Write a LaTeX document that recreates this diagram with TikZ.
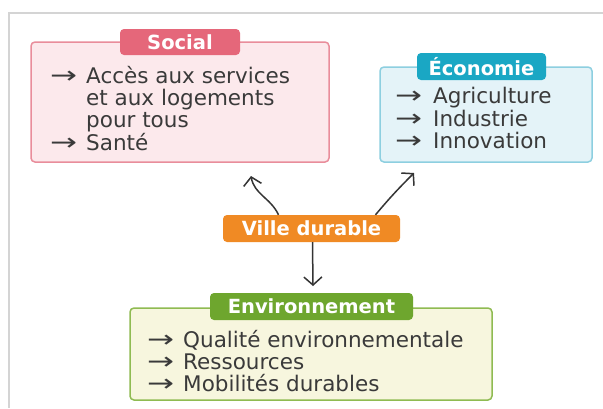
\documentclass[tikz,border=0pt]{standalone}
\usepackage{fontspec}
\setmainfont{DejaVu Sans}
\usetikzlibrary{arrows.meta}
\definecolor{txt}{HTML}{3A3A3A}
\definecolor{socTab}{HTML}{E5677A}
\definecolor{socFill}{HTML}{FCE9EC}
\definecolor{socLine}{HTML}{E98D9B}
\definecolor{ecoTab}{HTML}{1AA7C4}
\definecolor{ecoFill}{HTML}{E4F3F8}
\definecolor{ecoLine}{HTML}{8DCFE0}
\definecolor{villeFill}{HTML}{F08A24}
\definecolor{envTab}{HTML}{6EA62E}
\definecolor{envFill}{HTML}{F7F6DE}
\definecolor{envLine}{HTML}{8FBB52}
\definecolor{frameGray}{HTML}{D4D4D4}
\newcommand\itemarrow{\scalebox{1.5}[1.1]{→}}
\begin{document}
\begin{tikzpicture}[x=1pt,y=-1pt,
  panel/.style={draw, line width=1.5pt, rounded corners=4pt, inner sep=0pt},
  tab/.style={rounded corners=4pt, inner sep=0pt, text=white, font=\fontsize{19.5}{22}\selectfont\bfseries},
  item/.style={anchor=base west, inner sep=0pt, text=txt, font=\fontsize{21.5}{24}\selectfont},
  conn/.style={draw=txt!90!black, line width=1.5pt, -{Straight Barb[length=8pt,width=18pt,line width=1.5pt]}}
]
\useasboundingbox (0,0) rectangle (603,408);
\fill[white] (0,0) rectangle (603,408);
\draw[frameGray, line width=1.2pt] (603,13) -- (9,13) -- (9,408);

% Social
\node[panel, draw=socLine, fill=socFill, minimum width=298pt, minimum height=120pt] (social) at (180,102) {};
\node[tab, fill=socTab, minimum width=120pt, minimum height=26pt] (socialtab) at (180,42) {Social};
\node[item] (s1a) at (50,83) {\itemarrow};
\node[item] (s1) at (86,83) {Accès aux services};
\node[item] (s2) at (86,105) {et aux logements};
\node[item] (s3) at (86,127) {pour tous};
\node[item] (s4a) at (50,150) {\itemarrow};
\node[item] (s4) at (86,150) {Santé};

% Economie
\node[panel, draw=ecoLine, fill=ecoFill, minimum width=212pt, minimum height=95pt] (eco) at (486,114.5) {};
\node[tab, fill=ecoTab, minimum width=129pt, minimum height=27pt] (ecotab) at (481.5,66.5) {Économie};
\node[item] (e1a) at (395,103) {\itemarrow};
\node[item] (e1) at (433,103) {Agriculture};
\node[item] (e2a) at (395,126) {\itemarrow};
\node[item] (e2) at (433,126) {Industrie};
\node[item] (e3a) at (395,148) {\itemarrow};
\node[item] (e3) at (433,148) {Innovation};

% Ville durable
\node[tab, fill=villeFill, minimum width=177pt, minimum height=27pt] (ville) at (311.5,228.5) {Ville durable};

% Environnement
\node[panel, draw=envLine, fill=envFill, minimum width=362pt, minimum height=92pt] (env) at (311,354) {};
\node[tab, fill=envTab, minimum width=203pt, minimum height=27pt] (envtab) at (311.5,306.5) {Environnement};
\node[item] (v1a) at (147,347) {\itemarrow};
\node[item] (v1) at (183,347) {Qualité environnementale};
\node[item] (v2a) at (147,369) {\itemarrow};
\node[item] (v2) at (183,369) {Ressources};
\node[item] (v3a) at (147,391) {\itemarrow};
\node[item] (v3) at (183,391) {Mobilités durables};

% connectors
\coordinate (tipS) at (251,176);
\coordinate (tipE) at (414,173);
\coordinate (tipV) at (313,286);
\draw[conn] ([xshift=-33pt]ville.north) to[out=115,in=-80] (tipS);
\draw[conn] ([xshift=64pt]ville.north) to[out=50,in=-135] (tipE);
\draw[conn] ([xshift=1pt]ville.south) -- (tipV);
\end{tikzpicture}
\end{document}
